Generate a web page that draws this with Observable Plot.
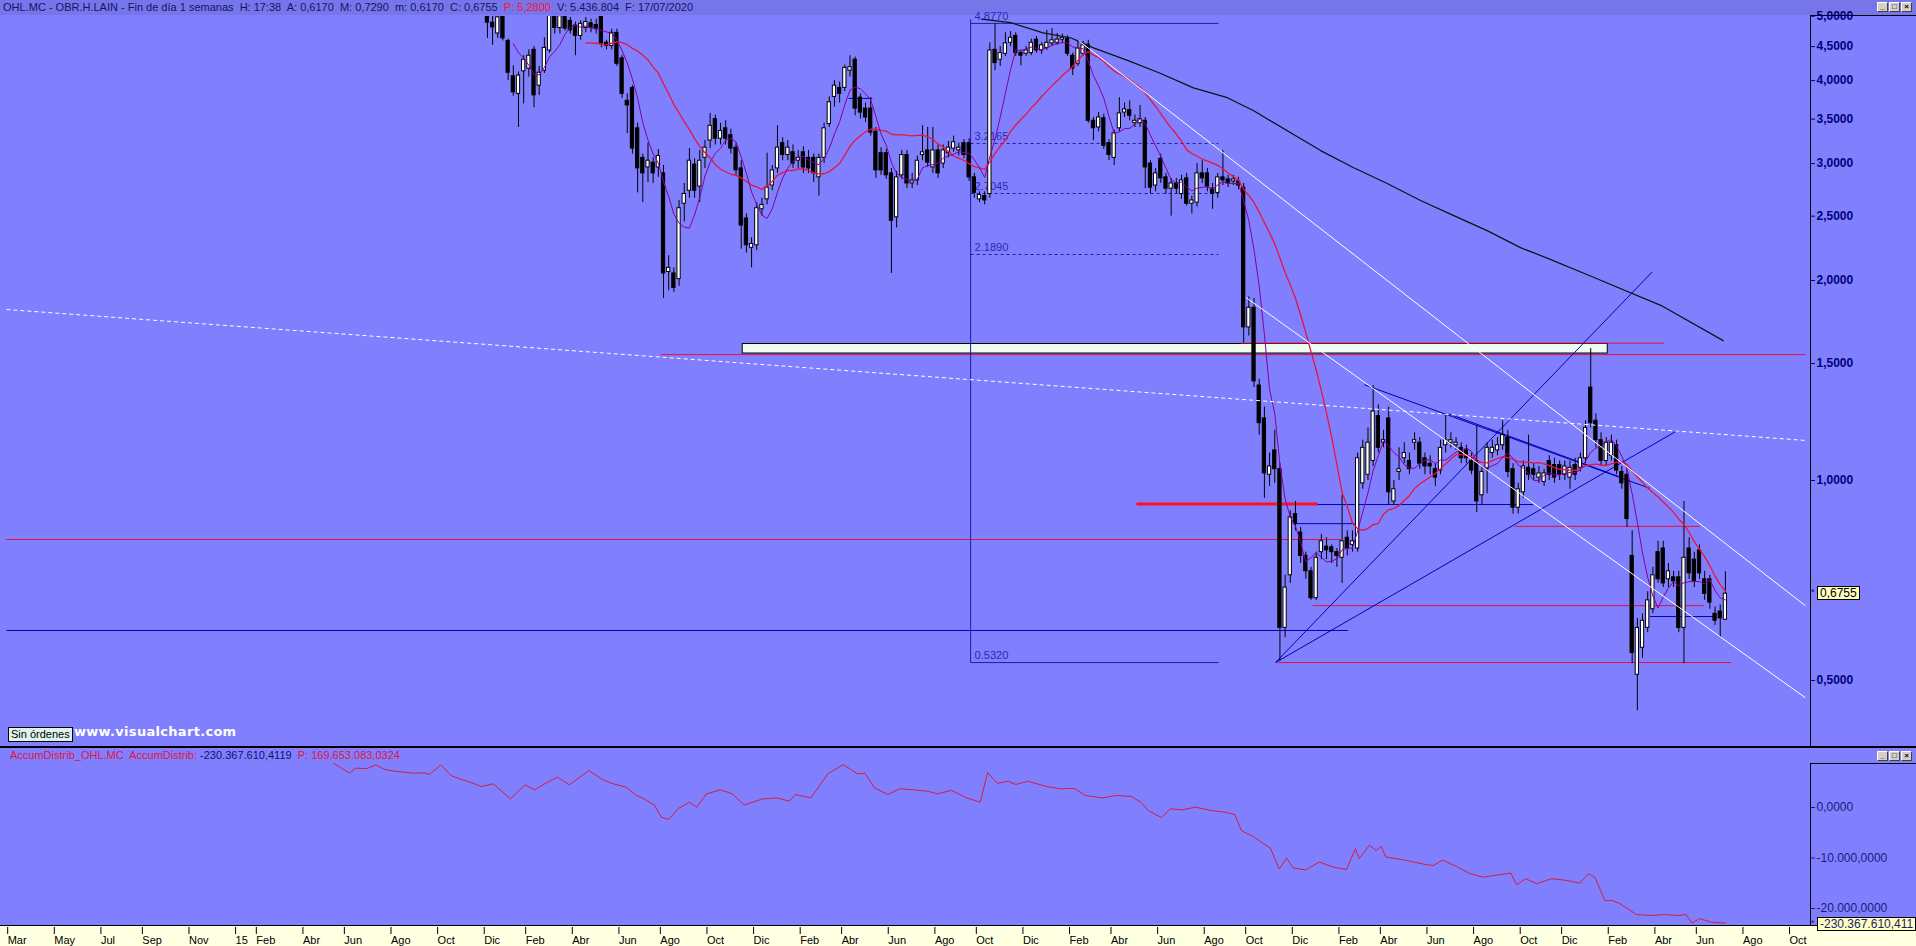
<!DOCTYPE html>
<html><head><meta charset="utf-8">
<script src="https://cdn.jsdelivr.net/npm/d3@7"></script>
<script src="https://cdn.jsdelivr.net/npm/@observablehq/plot@0.6"></script>
<style>
html,body{margin:0;padding:0;background:#8080ff;}
#wrap{position:relative;width:1916px;height:946px;overflow:hidden;background:#8080ff;font-family:"Liberation Sans",Arial,sans-serif;}
.a{position:absolute;}
.hdr{left:0;top:0;width:1916px;height:15px;background:#7676ea;font-size:11px;line-height:15px;color:#141466;white-space:pre;}
.btns{display:flex;gap:1px;}
.btn{width:11px;height:10px;background:#d4d0c8;border:1px solid #fff;border-right-color:#404040;border-bottom-color:#404040;font:bold 8px/8px Arial;text-align:center;color:#000;box-sizing:border-box;}
.vbox{background:#ffffc0;border:1px solid #000;font-size:12px;line-height:12px;padding:0 2px;white-space:nowrap;}
.blk{background:#000;}
</style></head><body><div id="wrap"></div><script>
// ---------- DATA ----------
const firstWeek = "2015-12-14";
const open  = [5.01,4.89,4.71,5.01,4.59,4.06,3.82,4.13,4.17,4.45,3.93,4.14,4.44,5.00,4.80,4.99,4.92,4.84,4.67,4.80,4.88,4.85,5.01,4.56,4.51,4.72,4.32,3.73,3.90,3.39,3.06,2.96,3.01,2.96,2.90,2.06,2.05,2.01,2.61,2.73,2.99,2.77,3.06,3.25,3.50,3.27,3.39,3.31,3.17,2.95,2.48,2.24,2.26,2.56,2.65,2.78,2.95,3.22,3.09,3.12,3.03,3.12,3.06,3.06,2.86,3.06,3.44,3.78,3.90,3.90,4.14,4.30,3.77,3.63,3.63,3.35,3.11,3.11,2.90,2.49,2.88,3.09,2.80,2.83,3.09,3.14,2.96,3.14,3.00,3.11,3.16,3.14,3.22,3.22,2.86,2.65,2.68,2.70,4.45,4.30,4.39,4.56,4.67,4.40,4.39,4.40,4.61,4.44,4.48,4.55,4.56,4.61,4.63,4.36,4.24,4.39,4.53,3.48,3.40,3.51,3.22,3.06,3.39,3.58,3.61,3.45,3.45,3.48,3.00,2.78,3.05,2.86,2.75,2.80,2.70,2.85,2.61,2.62,2.90,2.90,2.75,2.71,2.86,2.84,2.82,2.82,2.76,1.70,1.82,1.39,1.24,1.02,1.11,1.04,0.60,0.72,0.89,0.835,0.77,0.73,0.665,0.78,0.795,0.793,0.78,0.765,0.82,0.80,0.79,0.99,1.02,1.07,1.25,1.14,1.24,0.93,1.03,1.08,1.07,1.14,1.14,1.08,1.06,1.04,1.035,1.13,1.14,1.13,1.12,1.11,1.07,1.07,0.95,1.04,1.10,1.11,1.13,1.16,1.04,0.91,0.96,1.045,1.04,1.01,0.995,1.07,1.055,1.055,1.02,1.01,1.055,1.045,1.08,1.38,1.23,1.15,1.07,1.09,1.13,1.03,1.02,0.77,0.51,0.56,0.60,0.64,0.78,0.79,0.71,0.715,0.715,0.60,0.79,0.76,0.785,0.71,0.71,0.63,0.635,0.617];
const high  = [5.06,5.01,5.02,5.05,4.62,4.21,4.12,4.36,4.45,4.50,4.20,4.64,5.08,5.08,5.05,5.05,4.98,4.90,4.92,4.98,4.95,4.95,5.05,4.60,4.78,4.78,4.36,3.82,3.93,3.45,3.10,3.22,3.06,3.15,2.98,2.18,2.09,2.64,2.80,3.16,3.05,3.14,3.25,3.57,3.55,3.45,3.48,3.38,3.22,3.03,2.52,2.32,2.62,2.66,3.11,2.98,3.42,3.28,3.25,3.20,3.14,3.18,3.14,3.10,3.10,3.45,3.78,4.00,3.98,4.22,4.36,4.34,3.82,3.70,3.77,3.40,3.17,3.15,2.95,2.92,3.14,3.14,2.90,3.08,3.42,3.40,3.40,3.20,3.20,3.24,3.30,3.22,3.26,3.27,2.90,2.72,2.72,4.56,4.87,4.50,4.72,4.74,4.72,4.45,4.50,4.62,4.66,4.56,4.76,4.79,4.71,4.70,4.67,4.40,4.60,4.58,4.60,3.52,3.58,3.56,3.26,3.37,3.77,3.70,3.73,3.55,3.67,3.52,3.03,2.95,3.10,2.90,2.85,2.85,2.88,2.90,2.68,3.00,3.03,2.95,2.80,2.90,3.14,2.88,2.88,2.86,2.80,1.89,1.88,1.42,1.29,1.10,1.19,1.06,0.72,0.90,0.93,0.85,0.78,0.74,0.78,0.83,0.82,0.80,0.79,0.95,0.84,0.84,1.10,1.15,1.20,1.39,1.30,1.19,1.29,1.00,1.12,1.14,1.10,1.18,1.16,1.10,1.09,1.06,1.15,1.26,1.18,1.16,1.14,1.13,1.10,1.21,1.05,1.14,1.15,1.16,1.23,1.19,1.06,0.99,1.07,1.17,1.06,1.05,1.04,1.09,1.08,1.07,1.07,1.07,1.08,1.10,1.23,1.58,1.26,1.18,1.16,1.17,1.15,1.05,1.04,0.84,0.62,0.63,0.68,0.74,0.81,0.81,0.75,0.73,0.73,0.93,0.82,0.78,0.80,0.73,0.72,0.645,0.65,0.729];
const low   = [4.63,4.52,4.63,4.59,4.00,3.79,3.40,3.69,4.05,3.64,3.80,4.10,4.40,4.70,4.70,4.75,4.70,4.36,4.60,4.72,4.72,4.70,4.48,4.45,4.45,4.20,3.76,3.33,3.10,2.71,2.62,2.81,2.80,2.86,1.88,1.93,1.92,1.96,2.45,2.66,2.66,2.62,2.95,3.16,3.20,3.20,3.20,3.10,2.88,2.23,2.20,2.09,2.22,2.50,2.60,2.73,2.90,3.03,3.03,2.95,2.95,2.90,2.90,2.81,2.68,3.00,3.40,3.65,3.70,3.85,4.05,3.54,3.50,3.46,3.30,2.85,2.88,2.84,2.05,2.40,2.84,2.75,2.75,2.78,3.03,2.96,2.90,2.85,2.95,3.06,3.12,3.08,3.05,2.82,2.66,2.62,2.60,2.66,4.14,4.20,4.35,4.50,4.35,4.21,4.35,4.36,4.40,4.38,4.44,4.50,4.52,4.55,4.35,4.07,4.20,4.35,3.45,3.25,3.35,3.15,3.03,2.98,3.35,3.52,3.48,3.40,3.40,2.75,2.70,2.72,2.80,2.70,2.50,2.70,2.65,2.59,2.52,2.58,2.80,2.72,2.56,2.66,2.78,2.76,2.78,2.74,1.61,1.65,1.38,1.17,0.94,0.98,0.99,0.535,0.58,0.70,0.84,0.75,0.71,0.66,0.66,0.76,0.76,0.75,0.74,0.70,0.77,0.78,0.78,0.97,1.00,1.05,1.10,1.12,0.92,0.92,1.00,1.06,1.02,1.11,1.04,1.02,1.02,0.98,1.02,1.10,1.12,1.11,1.06,1.06,1.02,0.895,0.92,0.955,1.08,1.09,1.11,1.01,0.89,0.89,0.94,1.00,1.00,0.99,0.98,1.00,0.99,1.00,1.00,0.97,1.00,1.03,1.06,1.20,1.12,1.05,1.05,1.07,1.02,0.97,0.85,0.53,0.45,0.54,0.59,0.63,0.70,0.69,0.69,0.69,0.59,0.53,0.71,0.69,0.71,0.66,0.64,0.605,0.58,0.617];
const close = [4.89,4.81,4.98,4.63,4.11,3.84,4.07,4.30,4.36,3.80,4.11,4.48,5.01,4.80,5.00,4.79,4.76,4.67,4.87,4.90,4.80,4.78,4.55,4.51,4.72,4.24,3.82,3.67,3.16,2.95,2.90,3.03,2.90,3.08,2.05,2.09,1.95,2.57,2.70,3.03,2.73,3.03,3.17,3.42,3.27,3.36,3.27,3.16,2.93,2.42,2.26,2.27,2.57,2.60,2.76,2.93,3.17,3.09,3.17,3.00,3.06,2.96,2.95,2.90,3.06,3.39,3.71,3.93,3.82,4.18,4.19,3.63,3.58,3.52,3.34,2.93,2.93,2.88,2.46,2.86,3.09,2.80,2.83,3.03,3.12,3.01,3.14,2.90,3.14,3.17,3.23,3.17,3.09,2.86,2.71,2.69,2.64,4.44,4.25,4.40,4.55,4.64,4.40,4.36,4.44,4.56,4.44,4.52,4.56,4.60,4.61,4.64,4.39,4.17,4.47,4.52,3.48,3.39,3.52,3.19,3.09,3.33,3.57,3.62,3.54,3.48,3.50,2.96,2.76,2.90,2.85,2.75,2.80,2.75,2.83,2.61,2.64,2.90,2.85,2.77,2.70,2.86,2.83,2.80,2.84,2.78,1.70,1.82,1.41,1.22,1.025,1.05,1.04,0.60,0.69,0.88,0.86,0.77,0.73,0.665,0.765,0.81,0.785,0.78,0.77,0.81,0.79,0.81,1.08,1.12,1.14,1.27,1.12,1.15,0.96,0.97,1.04,1.10,1.04,1.15,1.06,1.05,1.05,1.01,1.12,1.15,1.15,1.14,1.08,1.08,1.035,0.93,1.03,1.12,1.12,1.13,1.17,1.03,0.91,0.97,1.05,1.02,1.02,1.025,1.025,1.02,1.01,1.02,1.05,1.045,1.02,1.08,1.20,1.22,1.15,1.07,1.14,1.14,1.035,0.99,0.875,0.55,0.60,0.615,0.66,0.72,0.71,0.70,0.73,0.705,0.60,0.765,0.725,0.705,0.725,0.675,0.655,0.615,0.62,0.6755];

// long (black) moving average
const maDates  = ["2017-10-12","2017-11-20","2018-01-03","2018-02-09","2018-03-12","2018-04-27","2018-06-11","2018-07-25","2018-09-09","2018-10-14","2019-01-13","2019-02-26","2019-04-13","2019-05-28","2019-07-12","2019-08-26","2019-10-10","2019-11-16","2020-01-11","2020-04-19","2020-07-10"];
const maValues = [4.95,4.89,4.72,4.64,4.48,4.29,4.10,3.90,3.77,3.605,3.138,2.96,2.80,2.639,2.505,2.378,2.242,2.16,2.035,1.83,1.624];

// AccumDistrib indicator (axis units)
const adDates = ["2015-05-20","2015-06-01","2015-06-11","2015-06-19","2015-07-04","2015-07-16","2015-07-29","2015-08-10","2015-08-24","2015-09-05","2015-09-19","2015-09-27","2015-10-12","2015-10-26","2015-11-06","2015-11-21","2015-12-06","2015-12-22","2016-01-14","2016-02-03","2016-02-16","2016-03-04","2016-03-18","2016-04-03","2016-04-29","2016-05-18","2016-06-01","2016-06-19","2016-07-01","2016-07-13","2016-07-27","2016-08-05","2016-08-15","2016-08-28","2016-09-12","2016-09-22","2016-10-05","2016-10-24","2016-11-09","2016-11-25","2016-12-20","2017-01-09","2017-01-25","2017-02-02","2017-02-23","2017-03-18","2017-04-08","2017-04-27","2017-05-07","2017-05-20","2017-06-07","2017-06-23","2017-07-12","2017-08-01","2017-08-13","2017-09-01","2017-09-20","2017-10-10","2017-10-20","2017-11-02","2017-11-17","2017-11-27","2017-12-13","2018-01-08","2018-01-26","2018-02-14","2018-03-01","2018-03-24","2018-04-12","2018-05-02","2018-05-15","2018-05-25","2018-06-12","2018-06-24","2018-07-10","2018-07-28","2018-08-18","2018-09-06","2018-09-19","2018-09-28","2018-10-14","2018-10-28","2018-11-06","2018-11-18","2018-11-28","2018-12-07","2018-12-24","2019-01-11","2019-01-30","2019-02-17","2019-03-01","2019-03-06","2019-03-20","2019-03-29","2019-04-05","2019-04-11","2019-05-06","2019-06-01","2019-06-14","2019-06-27","2019-07-16","2019-08-03","2019-08-20","2019-09-12","2019-09-27","2019-10-05","2019-10-17","2019-11-01","2019-11-21","2019-12-10","2019-12-29","2020-01-10","2020-01-19","2020-02-01","2020-02-11","2020-02-21","2020-03-15","2020-04-03","2020-04-22","2020-05-11","2020-05-21","2020-05-29","2020-06-08","2020-06-24","2020-07-13"];
const adValues = [8.77,7.66,6.8,7.8,7.7,8.45,7.5,7.2,7.0,6.8,6.85,6.55,8.45,6.3,5.7,5.0,4.16,4.7,1.72,4.5,3.5,5.0,6.0,4.5,7.3,5.5,4.7,4.0,2.5,1.7,0.4,-1.9,-2.4,-0.2,1.05,0.06,2.7,3.5,2.7,0.5,1.7,1.9,1.25,2.57,1.9,6.67,8.5,6.67,6.8,3.9,2.57,3.7,3.5,3.2,2.7,3.4,2.0,1.05,6.93,4.8,5.2,4.55,5.2,4.16,3.7,3.8,2.38,1.9,2.38,2.2,1.06,-0.6,-2.0,-0.26,-0.46,0.07,-0.6,-0.93,-1.4,-4.6,-5.74,-7.2,-8.0,-12.2,-10.0,-12.0,-12.35,-10.8,-11.8,-12.27,-8.16,-10.1,-7.5,-8.5,-7.7,-9.8,-10.4,-11.2,-11.5,-10.4,-11.7,-13.1,-13.8,-13.3,-13.0,-15.3,-14.1,-15.1,-14.1,-14.4,-15.0,-13.1,-13.9,-18.4,-18.4,-19.0,-21.2,-21.4,-21.2,-21.4,-21.2,-22.9,-22.0,-22.7,-22.9];

// drawn objects (dates and prices)
const whiteSolid  = [{from:"2018-02-20",p1:4.595,to:"2020-10-29",p2:0.648},{from:"2018-10-04",p1:1.886,to:"2020-10-29",p2:0.471}];
const whiteDashed = [{from:"2014-03-04",p1:1.809,to:"2020-10-29",p2:1.149}];
const blueLines = [
  {from:"2018-11-13",p1:0.532,to:"2020-04-05",p2:2.06},
  {from:"2018-11-13",p1:0.532,to:"2020-05-09",p2:1.189},
  {from:"2019-03-13",p1:1.394,to:"2020-04-02",p2:0.973},
  {from:"2019-07-05",p1:1.26,to:"2020-02-24",p2:1.01},
  {from:"2019-01-09",p1:0.920,to:"2019-10-27",p2:0.920},
  {from:"2014-03-04",p1:0.5946,to:"2019-02-19",p2:0.5946},
  {from:"2018-12-08",p1:0.861,to:"2019-02-28",p2:0.861},
  {from:"2020-04-02",p1:0.624,to:"2020-06-28",p2:0.624},
  {from:"2017-04-15",p1:3.76,to:"2017-05-17",p2:3.76}];
const redLines = [
  {from:"2014-03-04",p1:0.815,to:"2019-02-09",p2:0.815},
  {from:"2018-09-27",p1:1.61,to:"2020-04-21",p2:1.61},
  {from:"2016-08-04",p1:1.547,to:"2020-10-29",p2:1.547},
  {from:"2019-01-02",p1:0.648,to:"2020-06-14",p2:0.648},
  {from:"2018-11-16",p1:0.532,to:"2020-07-21",p2:0.532},
  {from:"2019-10-02",p1:0.853,to:"2020-06-09",p2:0.853}];
const redThick = [{from:"2018-05-09",p1:0.922,to:"2019-01-09",p2:0.922}];
const zone = [{from:"2016-11-23",to:"2020-02-05",lo:1.553,hi:1.605}];
const fibStart = "2017-09-27", fibEnd = "2018-08-28";
const fibLevels = [4.877,3.2165,2.7045,2.189,0.532];
const fibLabels = ["4.8770","3.2165","2.7045","2.1890","0.5320"];

// ticks
const priceTicks = [0.5,1,1.5,2,2.5,3,3.5,4,4.5,5];
const priceTickLabels = ["0,5000","1,0000","1,5000","2,0000","2,5000","3,0000","3,5000","4,0000","4,5000","5,0000"];
const adTicks = [0,-10,-20];
const adTickLabels = ["0,0000","-10.000,0000","-20.000,0000"];
const tickDates = ["2014-03-03","2014-05-05","2014-07-07","2014-09-01","2014-11-03","2015-01-05","2015-02-02","2015-04-06","2015-06-01","2015-08-03","2015-10-05","2015-12-07","2016-02-01","2016-04-04","2016-06-06","2016-08-01","2016-10-03","2016-12-05","2017-02-06","2017-04-03","2017-06-05","2017-08-07","2017-10-02","2017-12-04","2018-02-05","2018-04-02","2018-06-04","2018-08-06","2018-10-01","2018-12-03","2019-02-04","2019-04-01","2019-06-03","2019-08-05","2019-10-07","2019-12-02","2020-02-03","2020-04-06","2020-06-01","2020-08-03","2020-10-05"];
const tickLabels = ["Mar","May","Jul","Sep","Nov","15","Feb","Abr","Jun","Ago","Oct","Dic","Feb","Abr","Jun","Ago","Oct","Dic","Feb","Abr","Jun","Ago","Oct","Dic","Feb","Abr","Jun","Ago","Oct","Dic","Feb","Abr","Jun","Ago","Oct","Dic","Feb","Abr","Jun","Ago","Oct"];

const lastPriceLabel = "0,6755";
const lastADLabel = "-230.367.610,411";

// ---------- BUILD ----------
const DAY = 864e5;
const start = new Date(firstWeek);
const candles = close.map((c,i)=>({date:new Date(+start + i*7*DAY), open:open[i], high:high[i], low:low[i], close:c}));
const xDomain = [new Date("2014-02-24"), new Date("2020-11-05")];
const seg = arr => arr.map(s=>({x1:new Date(s.from), x2:new Date(s.to), y1:s.p1, y2:s.p2}));
const link = (arr, o) => Plot.link(seg(arr), {x1:"x1",x2:"x2",y1:"y1",y2:"y2",clip:true,...o});
const priceLab = new Map(priceTicks.map((t,i)=>[t,priceTickLabels[i]]));
const adLab = new Map(adTicks.map((t,i)=>[t,adTickLabels[i]]));
const tLab = new Map(tickDates.map((d,i)=>[+new Date(d), tickLabels[i]]));
const fibLines = fibLevels.map((p,i)=>({from:fibStart,to:fibEnd,p1:p,p2:p,dash:i>0&&i<4}));
const font = "Liberation Sans, Arial, sans-serif";

const main = Plot.plot({
  width:1916, height:730, marginTop:0, marginBottom:0, marginLeft:0, marginRight:106,
  style:{background:"transparent", fontFamily:font, overflow:"visible"},
  x:{type:"utc", domain:xDomain, axis:null},
  y:{type:"log", domain:[0.3977,4.995], label:null},
  marks:[
    Plot.rect(zone, {x1:d=>new Date(d.from), x2:d=>new Date(d.to), y1:"lo", y2:"hi", fill:"#eefbee", stroke:"black", clip:true}),
    link(redLines, {stroke:"#e0103c", strokeWidth:1}),
    link(redThick, {stroke:"#ff1020", strokeWidth:3}),
    link(blueLines, {stroke:"#0000b4", strokeWidth:1}),
    link(fibLines.filter(d=>!d.dash), {stroke:"#1c1ca8", strokeWidth:1}),
    link(fibLines.filter(d=>d.dash), {stroke:"#1c1ca8", strokeWidth:1, strokeDasharray:"3,3"}),
    link([{from:fibStart,to:fibStart,p1:0.532,p2:4.95}], {stroke:"#1c1ca8", strokeWidth:1}),
    Plot.text(fibLevels.map((p,i)=>({x:new Date(fibStart), y:p, t:fibLabels[i]})), {x:"x", y:"y", text:"t", textAnchor:"start", dx:4, dy:-7, fill:"#2a2ab4", fontSize:11}),
    Plot.ruleX(candles, {x:"date", y1:"low", y2:"high", stroke:"black", strokeWidth:1, clip:true}),
    Plot.rect(candles, {x1:d=>new Date(+d.date-2.2*DAY), x2:d=>new Date(+d.date+2.2*DAY), y1:"open", y2:"close",
      fill:d=>d.close>=d.open?"white":"black", stroke:"black", strokeWidth:1, clip:true}),
    Plot.lineY(candles, Plot.windowY({k:20, anchor:"end", strict:true}, {x:"date", y:"close", stroke:"#e8143c", strokeWidth:1.3, clip:true})),
    Plot.lineY(candles, Plot.windowY({k:6, anchor:"end", strict:true}, {x:"date", y:"close", stroke:"#86009a", strokeWidth:1, clip:true})),
    Plot.line(maDates.map((d,i)=>({x:new Date(d), y:maValues[i]})), {x:"x", y:"y", stroke:"#101010", strokeWidth:1.2, clip:true}),
    link(whiteSolid, {stroke:"white", strokeWidth:1}),
    link(whiteDashed, {stroke:"white", strokeWidth:1, strokeDasharray:"4,3"}),
    Plot.axisY(priceTicks, {anchor:"right", label:null, tickSize:4, tickPadding:2, tickFormat:d=>priceLab.get(d), fontSize:12, fontWeight:"bold", color:"#00007a"})
  ]
});

const lower = Plot.plot({
  width:1916, height:176, marginTop:0, marginBottom:0, marginLeft:0, marginRight:106,
  style:{background:"transparent", fontFamily:font, overflow:"visible"},
  x:{type:"utc", domain:xDomain, axis:null},
  y:{domain:[-23.37,11.49], label:null},
  marks:[
    Plot.line(adDates.map((d,i)=>({x:new Date(d), y:adValues[i]})), {x:"x", y:"y", stroke:"#d41c3c", strokeWidth:1}),
    Plot.axisY(adTicks, {anchor:"right", label:null, tickSize:4, tickPadding:2, tickFormat:d=>adLab.get(d), fontSize:12, color:"#1a1a7a"})
  ]
});

const band = Plot.plot({
  width:1916, height:20, marginTop:0, marginBottom:19, marginLeft:0, marginRight:106,
  style:{background:"transparent", fontFamily:font, overflow:"visible"},
  x:{type:"utc", domain:xDomain},
  marks:[
    Plot.axisX(tickDates.map(d=>new Date(d)), {anchor:"bottom", label:null, tickSize:7, tickPadding:2, textAnchor:"start", dx:2, tickFormat:d=>tLab.get(+d), fontSize:11, color:"black"})
  ]
});

// ---------- LAYOUT ----------
const wrap = document.getElementById("wrap");
function box(cls, css, html){ const d=document.createElement("div"); d.className="a "+(cls||""); Object.assign(d.style, css); if(html!=null) d.innerHTML=html; wrap.appendChild(d); return d; }
const axisX = main.scale("x").range[1];

// header (drawn first, the price panel is layered above it so its labels stay whole)
box("hdr", {zIndex:1}, ' OHL.MC - OBR.H.LAIN - Fin de día 1 semanas  H: 17:38  A: 0,6170  M: 0,7290  m: 0,6170  C: 0,6755  <span style="color:#ff1030">P: 5,2800</span>  V: 5.436.804  F: 17/07/2020');

const mainDiv = box("", {left:"0px", top:"16px", width:"1916px", height:"730px", overflow:"visible", zIndex:2}); mainDiv.appendChild(main);
const lowDiv = box("", {left:"0px", top:"749px", width:"1916px", height:"176px", overflow:"hidden"}); lowDiv.appendChild(lower);
const bandDiv = box("", {left:"0px", top:"925px", width:"1916px", height:"21px", background:"#ffffe1", borderTop:"1px solid #000", boxSizing:"border-box", overflow:"hidden"}); bandDiv.appendChild(band);

function buttons(top){ const b=box("btns", {left:"1877px", top:top+"px", zIndex:3}); ["_","□","×"].forEach(s=>{const e=document.createElement("div"); e.className="btn"; e.textContent=s; b.appendChild(e);}); }
buttons(2); buttons(751);

// frame lines
box("blk", {left:axisX+"px", top:"15px", width:(1916-axisX)+"px", height:"1px", zIndex:1});
box("blk", {left:axisX+"px", top:"15px", width:"1px", height:"732px", zIndex:1});
box("blk", {left:"0px", top:"746px", width:"1916px", height:"2px", zIndex:3});
box("blk", {left:axisX+"px", top:"763px", width:(1916-axisX)+"px", height:"1px"});
box("blk", {left:axisX+"px", top:"763px", width:"1px", height:"163px"});

// value boxes on axes
const yLast = 16 + main.scale("y").apply(close[close.length-1]);
box("vbox", {left:(axisX+7)+"px", top:(yLast-7)+"px", color:"#000", zIndex:3}, lastPriceLabel);
box("", {left:(axisX+1)+"px", top:(yLast-6)+"px", fontSize:"9px", color:"#00007a", zIndex:3}, "*");
const yAD = 749 + lower.scale("y").apply(adValues[adValues.length-1]);
box("vbox", {left:(axisX+7)+"px", top:(yAD-6)+"px", color:"#1a1a7a", zIndex:5}, lastADLabel);
box("", {left:(axisX+1)+"px", top:(yAD-5)+"px", fontSize:"9px", color:"#1a1a7a", zIndex:5}, "*");

// lower header
box("", {left:"10px", top:"749px", fontSize:"11px", lineHeight:"13px", whiteSpace:"pre", color:"#e0143c"},
  'AccumDistrib_OHL.MC  AccumDistrib: <span style="color:#10106a">-230.367.610,4119</span>  P: 169.653.083,0324');

// footer items
box("", {left:"8px", top:"727px", height:"13px", padding:"0 2px", background:"#dff3ee", border:"1px solid #000", fontSize:"11px", lineHeight:"13px", color:"#000", zIndex:3}, "Sin órdenes");
box("", {left:"74px", top:"724px", fontFamily:"DejaVu Sans, Verdana, sans-serif", fontWeight:"bold", fontSize:"13px", lineHeight:"16px", color:"#ffffff", letterSpacing:"0.3px", zIndex:3}, "www.visualchart.com");
</script></body></html>
